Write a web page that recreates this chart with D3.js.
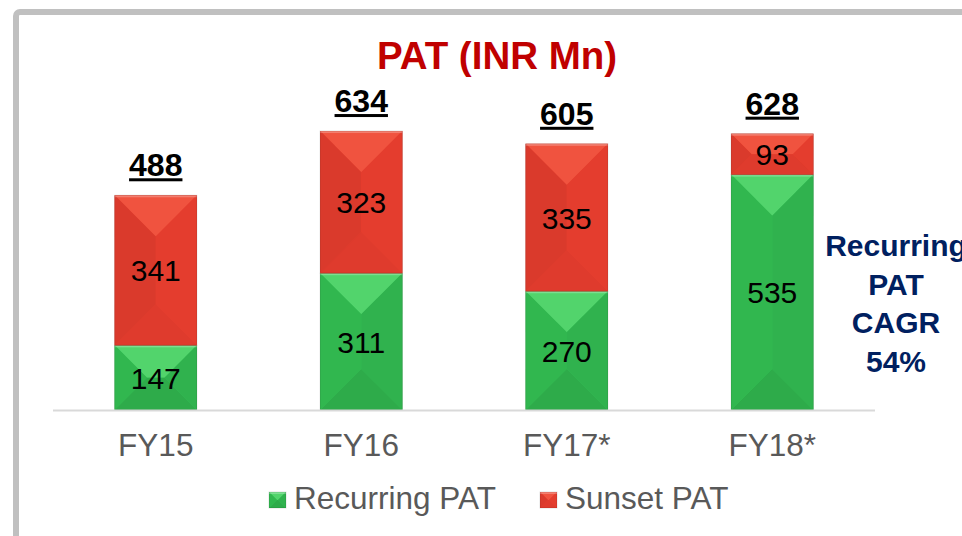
<html>
<head>
<meta charset="UTF-8">
<title>PAT</title>
<style>
  body { margin: 0; background: #fff; }
  svg text { font-family: "Liberation Sans", Arial, sans-serif; }
</style>
</head>
<body>
<script src="https://cdnjs.cloudflare.com/ajax/libs/d3/7.8.5/d3.min.js"></script>
<script>

// chart data
var years = ["FY15", "FY16", "FY17*", "FY18*"];
var recurring = [147, 311, 270, 535];
var sunset = [341, 323, 335, 93];
var totals = [488, 634, 605, 628];
var seriesNames = ["Recurring PAT", "Sunset PAT"];
var noteLines = ["Recurring", "PAT", "CAGR", "54%"];

var width = 962, height = 536;

var svg = d3.select("body").append("svg")
    .attr("width", width)
    .attr("height", height);

// frame
svg.append("rect")
    .attr("x", 16).attr("y", 12)
    .attr("width", width + 20).attr("height", height + 20)
    .attr("rx", 4)
    .attr("fill", "none")
    .attr("stroke", "#c0c0c0")
    .attr("stroke-width", 6);

svg.append("text")
    .attr("x", 497).attr("y", 69)
    .attr("text-anchor", "middle")
    .style("font-size", "38.5px").style("font-weight", "bold")
    .attr("fill", "#c00000")
    .text("PAT (INR Mn)");

var x = d3.scaleBand()
    .domain(years)
    .range([53, 875])
    .paddingInner(0.6)
    .paddingOuter(0.3);

var y = d3.scaleLinear()
    .domain([0, 700])
    .range([410, 102]);

var colors = {
  green: { base: "#35c056", top: "#52d46c", left: "#31b74f", right: "#30b24e", bottom: "#2eab4a" },
  red:   { base: "#e8402f", top: "#f0533f", left: "#da3a2c", right: "#e43d2e", bottom: "#df3b2d" }
};

// bevelled box (pyramid look)
function bevel(g, x0, y0, w, h, c) {
  var x1 = x0 + w, y1 = y0 + h;
  var d = Math.min(w / 2, h / 2);
  g.append("rect").attr("x", x0).attr("y", y0).attr("width", w).attr("height", h).attr("fill", c.base);
  g.append("polygon").attr("fill", c.top)
    .attr("points", [[x0, y0], [x1, y0], [x1 - d, y0 + d], [x0 + d, y0 + d]].join(" "));
  g.append("polygon").attr("fill", c.bottom)
    .attr("points", [[x0, y1], [x1, y1], [x1 - d, y1 - d], [x0 + d, y1 - d]].join(" "));
  g.append("polygon").attr("fill", c.left)
    .attr("points", [[x0, y0], [x0 + d, y0 + d], [x0 + d, y1 - d], [x0, y1]].join(" "));
  g.append("polygon").attr("fill", c.right)
    .attr("points", [[x1, y0], [x1 - d, y0 + d], [x1 - d, y1 - d], [x1, y1]].join(" "));
  g.append("rect").attr("x", x0).attr("y", y0).attr("width", w).attr("height", 2)
    .attr("fill", "rgba(255,255,255,0.25)");
  g.append("rect").attr("x", x0).attr("y", y0).attr("width", w).attr("height", h)
    .attr("fill", "none").attr("stroke", "rgba(0,0,0,0.12)").attr("stroke-width", 1);
}

var bars = svg.append("g");
years.forEach(function(yr, i) {
  var bx = x(yr), bw = x.bandwidth();
  var g = bars.append("g");
  bevel(g, bx, y(recurring[i]), bw, y(0) - y(recurring[i]), colors.green);
  bevel(g, bx, y(recurring[i] + sunset[i]), bw, y(recurring[i]) - y(recurring[i] + sunset[i]), colors.red);

  var cx = bx + bw / 2;
  g.append("text")
    .attr("x", cx).attr("y", (y(0) + y(recurring[i])) / 2 + 11)
    .attr("text-anchor", "middle")
    .style("font-size", "30px").attr("fill", "#000")
    .text(recurring[i]);
  g.append("text")
    .attr("x", cx).attr("y", (y(recurring[i]) + y(recurring[i] + sunset[i])) / 2 + 11)
    .attr("text-anchor", "middle")
    .style("font-size", "30px").attr("fill", "#000")
    .text(sunset[i]);

  var t = g.append("text")
    .attr("x", cx).attr("y", y(totals[i]) - 19)
    .attr("text-anchor", "middle")
    .style("font-size", "32px").style("font-weight", "bold").attr("fill", "#000")
    .text(totals[i]);
  var tw = t.node().getComputedTextLength();
  g.append("rect")
    .attr("x", cx - tw / 2).attr("y", y(totals[i]) - 17)
    .attr("width", tw).attr("height", 3)
    .attr("fill", "#000");
});

// baseline
svg.append("line")
    .attr("x1", 53).attr("x2", 875)
    .attr("y1", y(0) + 0.5).attr("y2", y(0) + 0.5)
    .attr("stroke", "#d9d9d9").attr("stroke-width", 2);

var xAxis = svg.append("g")
    .attr("transform", "translate(0," + y(0) + ")")
    .call(d3.axisBottom(x).tickSize(0).tickPadding(24));
xAxis.select(".domain").remove();
xAxis.selectAll("text")
    .style("font-family", "'Liberation Sans', Arial, sans-serif")
    .style("font-size", "31.5px")
    .attr("fill", "#595959");

// legend
var legend = svg.append("g");
var legendX = [269, 540];
var legendColors = [colors.green, colors.red];
seriesNames.forEach(function(name, i) {
  bevel(legend, legendX[i], 492, 17, 16, legendColors[i]);
  legend.append("text")
    .attr("x", legendX[i] + 25).attr("y", 509)
    .style("font-size", "31.5px").attr("fill", "#595959")
    .text(name);
});

// CAGR note
var note = svg.append("g");
noteLines.forEach(function(line, i) {
  note.append("text")
    .attr("x", 896).attr("y", 256 + i * 38.5)
    .attr("text-anchor", "middle")
    .style("font-size", "30px").style("font-weight", "bold")
    .attr("fill", "#002060")
    .text(line);
});

</script>
</body>
</html>
